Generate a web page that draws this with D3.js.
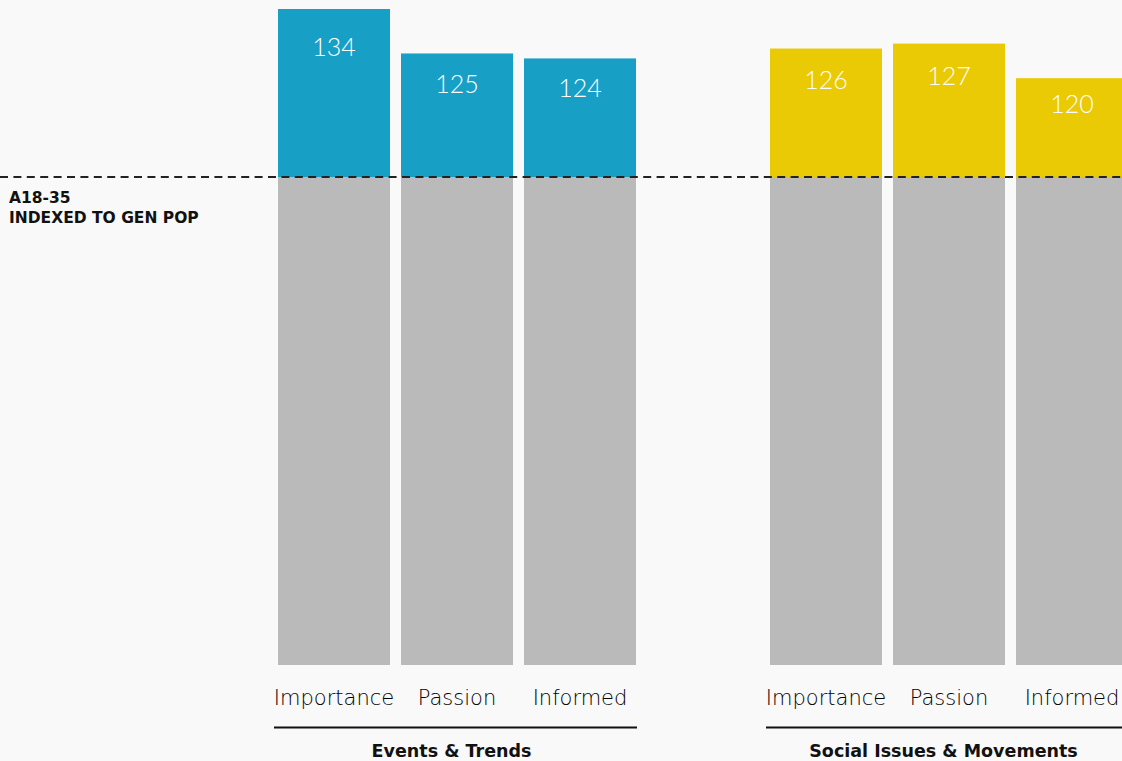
<!DOCTYPE html>
<html>
<head>
<meta charset="utf-8">
<script src="https://cdn.jsdelivr.net/npm/d3@7"></script>
<style>
html,body{margin:0;padding:0;background:#f9f9f9;overflow:hidden;}
svg{display:block;}
</style>
</head>
<body>
<svg id="chart" width="1122" height="761"></svg>
<script>
const groups = ["Events & Trends", "Social Issues & Movements"];
const categories = ["Importance", "Passion", "Informed"];
const eventsValues = [134, 125, 124];
const socialValues = [126, 127, 120];
const groupColors = ["#189fc6", "#eac905"];
const baselineValue = 100;
const baselineLabel = ["A18-35", "INDEXED TO GEN POP"];

const seriesByGroup = [eventsValues, socialValues];

const svg = d3.select("#chart");
const W = 1122, H = 761;
svg.append("rect").attr("width", W).attr("height", H).attr("fill", "#f9f9f9");

const plotBottom = 665;
const y = d3.scaleLinear().domain([baselineValue, 134]).range([177, 9]);

const groupX = d3.scalePoint().domain(groups).range([278, 770]);
const inner = d3.scaleBand().domain(categories).range([0, 358]).paddingInner(11/123).paddingOuter(0);

const lightFont = "'DejaVu Sans', sans-serif";
const numFont = "'Lato', sans-serif";
const boldFont = "'DejaVu Sans', sans-serif";

groups.forEach((g, gi) => {
  const gx = groupX(g);
  const gEl = svg.append("g").attr("transform", `translate(${gx},0)`);
  const vals = seriesByGroup[gi];
  const data = categories.map((c, i) => ({c, v: vals[i]}));

  gEl.selectAll("rect.base").data(data).join("rect")
    .attr("class", "base")
    .attr("x", d => inner(d.c))
    .attr("width", inner.bandwidth())
    .attr("y", y(baselineValue))
    .attr("height", plotBottom - y(baselineValue))
    .attr("fill", "#bababa");

  gEl.selectAll("rect.idx").data(data).join("rect")
    .attr("class", "idx")
    .attr("x", d => inner(d.c))
    .attr("width", inner.bandwidth())
    .attr("y", d => y(d.v))
    .attr("height", d => y(baselineValue) - y(d.v))
    .attr("fill", groupColors[gi]);

  gEl.selectAll("text.val").data(data).join("text")
    .attr("class", "val")
    .attr("x", d => inner(d.c) + inner.bandwidth() / 2)
    .attr("y", d => y(d.v) + 17.5 + (y(baselineValue) - y(d.v)) * 0.178)
    .attr("text-anchor", "middle")
    .attr("fill", "#ffffff")
    .style("font-family", numFont)
    .style("font-weight", 300)
    .style("font-size", "25px")
    .text(d => d.v);

  gEl.selectAll("text.cat").data(data).join("text")
    .attr("class", "cat")
    .attr("x", d => inner(d.c) + inner.bandwidth() / 2)
    .attr("y", 705)
    .attr("text-anchor", "middle")
    .attr("fill", "#000")
    .style("font-family", lightFont)
    .style("font-weight", 200)
    .style("font-size", "21px")
    .text(d => d.c);

  gEl.append("line")
    .attr("x1", -4).attr("x2", 359)
    .attr("y1", 727.5).attr("y2", 727.5)
    .attr("stroke", "#111").attr("stroke-width", 2.2);

  gEl.append("text")
    .attr("x", 173.5)
    .attr("y", 757)
    .attr("text-anchor", "middle")
    .attr("fill", "#111")
    .style("font-family", boldFont)
    .style("font-weight", 700)
    .style("font-size", "17.5px")
    .text(g);
});

svg.append("line")
  .attr("x1", 0).attr("x2", W)
  .attr("y1", y(baselineValue)).attr("y2", y(baselineValue))
  .attr("stroke", "#222").attr("stroke-width", 2)
  .attr("stroke-dasharray", "8,5.4");

svg.selectAll("text.bl").data(baselineLabel).join("text")
  .attr("class", "bl")
  .attr("x", 9)
  .attr("y", (d, i) => 203 + i * 20)
  .attr("fill", "#111")
  .style("font-family", boldFont)
  .style("font-weight", 700)
  .style("font-size", "15.5px")
  .text(d => d);
</script>
</body>
</html>
